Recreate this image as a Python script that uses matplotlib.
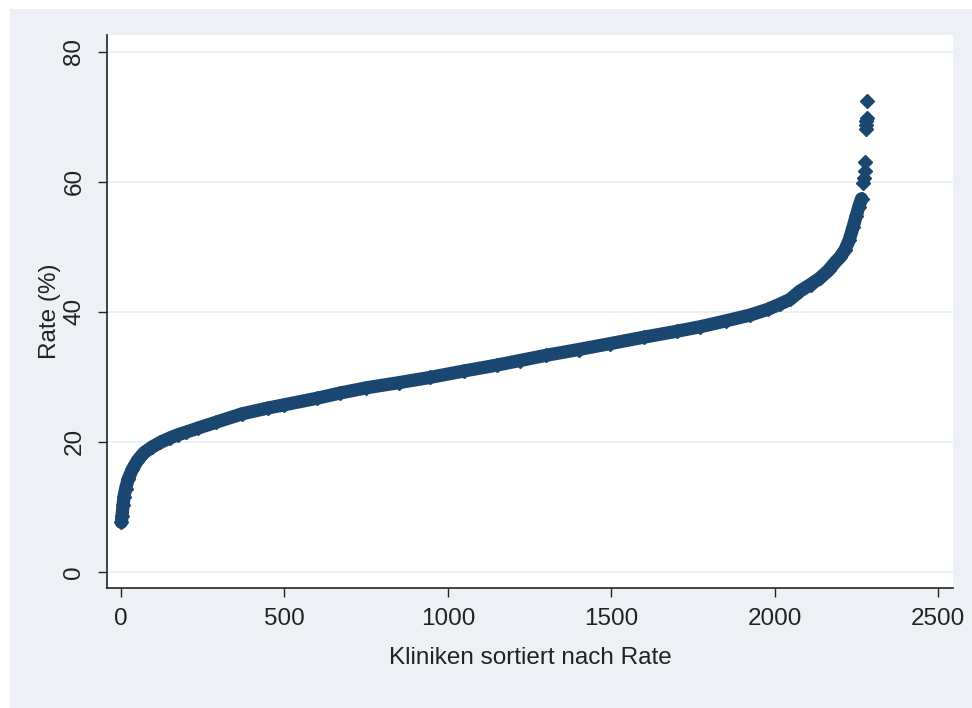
import matplotlib
matplotlib.use("Agg")
import matplotlib.pyplot as plt
from matplotlib.patches import Rectangle

# rank of clinic (sorted by rate) and rate in %
ranks = [1, 3, 6, 9, 14, 22, 35, 50, 70, 95, 120, 150, 175, 200, 235, 290,
         370, 450, 500, 600, 670, 750, 850, 945, 1050, 1150, 1220, 1300,
         1400, 1496, 1600, 1700, 1772, 1850, 1925, 1980, 2017, 2047, 2078,
         2110, 2139, 2165, 2185, 2200, 2215, 2228, 2240, 2250, 2258, 2266]
rates = [7.6, 8.6, 10.2, 11.5, 12.8, 14.3, 15.8, 17.1, 18.3, 19.2, 19.9,
         20.6, 21.1, 21.5, 22.1, 23.0, 24.3, 25.2, 25.7, 26.7, 27.5, 28.3,
         29.1, 29.9, 30.9, 31.8, 32.5, 33.3, 34.2, 35.1, 36.1, 37.0, 37.7,
         38.6, 39.5, 40.4, 41.2, 41.9, 43.2, 44.2, 45.2, 46.4, 47.6, 48.4,
         49.5, 51.0, 53.0, 54.8, 56.2, 57.4]

# isolated high outliers at the end
tail_ranks = [2272, 2275, 2276, 2278, 2280, 2281, 2281, 2282, 2284]
tail_rates = [59.9, 60.6, 61.6, 63.1, 68.2, 68.8, 69.4, 69.9, 72.5]

xticks = [0, 500, 1000, 1500, 2000, 2500]
yticks = [0, 20, 40, 60, 80]

navy = "#1a476f"
plt.rcParams["font.family"] = ["Liberation Sans", "DejaVu Sans"]

fig = plt.figure(figsize=(9.72, 7.08), dpi=100)
fig.patch.set_facecolor("white")
fig.patches.append(Rectangle((10 / 972, 0), 1, 1 - 9 / 708, transform=fig.transFigure,
                             facecolor="#edf1f6", edgecolor="none", zorder=-10))

ax = fig.add_axes([107 / 972, 1 - 588 / 708, 846 / 972, 553 / 708])
ax.set_facecolor("white")

ax.plot(ranks, rates, color=navy, lw=9.5, solid_capstyle="round",
        solid_joinstyle="round", zorder=3)
ax.plot(ranks, rates, "D", color=navy, ms=7.5, ls="none", zorder=3)
ax.plot(tail_ranks, tail_rates, "D", color=navy, ms=7.5, ls="none", zorder=3)

ax.set_xlim(-43, 2546)
ax.set_ylim(-2.5, 82.6)
ax.set_xticks(xticks)
ax.set_yticks(yticks)
ax.set_yticklabels([str(v) for v in yticks], rotation=90, va="center")
ax.grid(axis="y", color="#eaeff3", lw=1.2, zorder=0)
ax.set_axisbelow(True)

for s in ["top", "right"]:
    ax.spines[s].set_visible(False)
for s in ["left", "bottom"]:
    ax.spines[s].set_color("#222222")
    ax.spines[s].set_linewidth(1.2)

ax.tick_params(axis="both", length=6.5, width=1, color="#222222",
               labelsize=17.5, labelcolor="#222222")
ax.tick_params(axis="y", pad=9)
ax.tick_params(axis="x", pad=8)

ax.set_xlabel("Kliniken sortiert nach Rate", fontsize=17.5, color="#222222")
ax.set_ylabel("Rate (%)", fontsize=17.5, color="#222222")
ax.xaxis.set_label_coords(0.5, -0.126)
ax.xaxis.label.set_va("center")
ax.yaxis.set_label_coords(-0.067, 0.5)
ax.yaxis.label.set_va("center")

fig.savefig("out.png", dpi=100)
